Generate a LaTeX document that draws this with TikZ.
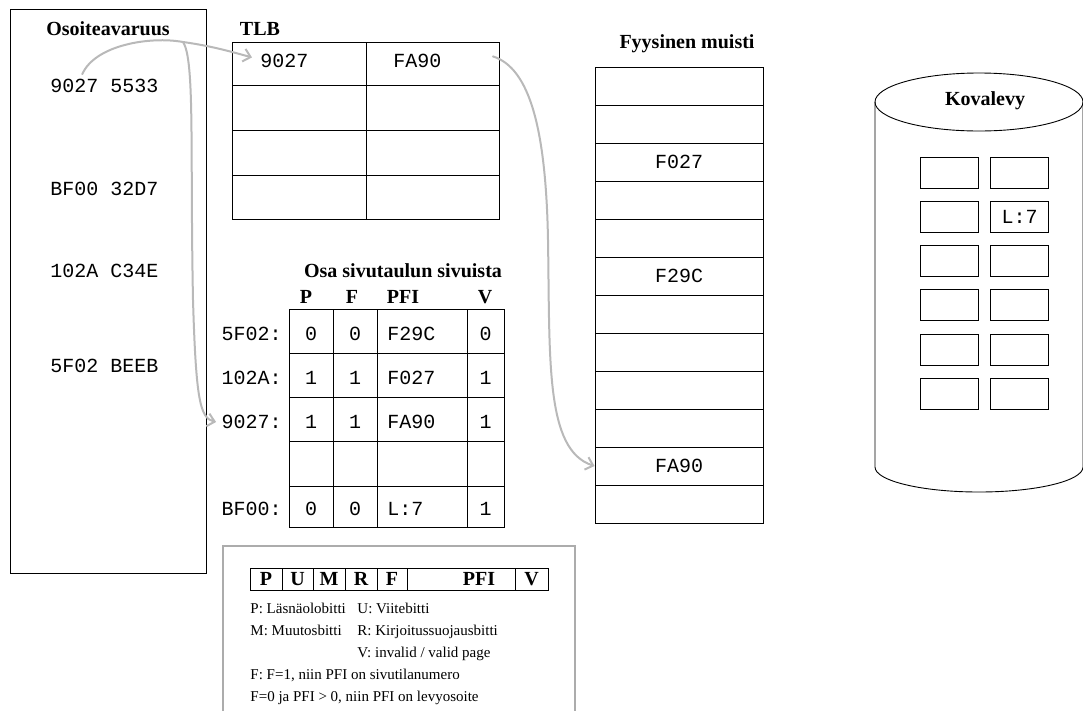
\documentclass[tikz,border=0pt]{standalone}
\usepackage{fontspec}
\setmainfont{Liberation Serif}
\setmonofont{Liberation Mono}
\usetikzlibrary{arrows.meta,calc,positioning}

\begin{document}
\begin{tikzpicture}[x=1pt,y=-1pt,line width=0.9pt,
  title/.style={font=\fontsize{20}{24}\selectfont\bfseries,inner sep=1pt},
  mono/.style={font=\fontsize{20}{24}\selectfont\ttfamily,inner sep=1pt},
  leg/.style={font=\fontsize{15}{18}\selectfont,anchor=base west,inner sep=0pt},
  memrow/.style={draw,mono,minimum width=168pt,minimum height=38pt,inner sep=0pt},
  blk/.style={draw,minimum width=58pt,minimum height=31pt,inner sep=0pt},
  hand/.style={draw=gray!55,line width=2pt,line cap=round,-{Straight Barb[length=7pt,width=13pt]}}]
  \useasboundingbox (0,0) rectangle (1083,710);

  \draw (10,9) rectangle (206,573);
  \node[title,anchor=base] (astitle) at (108,35) {Osoiteavaruus};
  \node[mono,anchor=base west] (addr1) at (49,92) {9027 5533};
  \node[mono,anchor=base west] (addr2) at (49,195) {BF00 32D7};
  \node[mono,anchor=base west] (addr3) at (49,277) {102A C34E};
  \node[mono,anchor=base west] (addr4) at (49,372) {5F02 BEEB};

  \node[title,anchor=base] (tlbtitle) at (260,35) {TLB};
  \draw (232,42) rectangle (499,219);
  \draw (366,42) -- (366,219);
  \foreach \y in {85,130,175} \draw (232,\y) -- (499,\y);
  \node[mono,anchor=base west] (tlbkey) at (259,67) {9027};
  \node[mono,anchor=base west] (tlbval) at (392,67) {FA90};

  \node[title,anchor=base] (pttitle) at (403,277) {Osa sivutaulun sivuista};
  \foreach \x/\t in {306/P,352/F,403/PFI,485/V}
    \node[title,anchor=base] (hd\t) at (\x,303) {\t};
  \draw (289,309) rectangle (504,527);
  \foreach \x in {333,377,467} \draw (\x,309) -- (\x,527);
  \foreach \y in {353,397,441,486} \draw (289,\y) -- (504,\y);
  \foreach \y/\k/\p/\f/\n/\v in {334/5F02/0/0/F29C/0,378/102A/1/1/F027/1,422/9027/1/1/FA90/1,509/BF00/0/0/L:7/1} {
    \node[mono,anchor=east] (pt\k) at (283,\y) {\k:};
    \node[mono] (p\k) at (311,\y) {\p};
    \node[mono] (f\k) at (355,\y) {\f};
    \node[mono,anchor=west] (pfi\k) at (386,\y) {\n};
    \node[mono] (v\k) at (485.5,\y) {\v};
  }

  \node[title,anchor=base] (memtitle) at (687,48) {Fyysinen muisti};
  \foreach \i/\t in {1/,2/,3/F027,4/,5/,6/F29C,7/,8/,9/,10/,11/FA90,12/}
    \node[memrow] (mem\i) at (679,{48+38*\i}) {\t};

  \draw (979,102) ellipse[x radius=104,y radius=29];
  \draw (875,102) -- (875,467) arc[start angle=180,end angle=0,x radius=104,y radius=25] -- (1083,102);
  \node[title,anchor=base] (disktitle) at (985,105) {Kovalevy};
  \foreach \r in {0,...,5}
    \foreach \c in {0,1}
      \node[blk] (blk\r\c) at ({949+70.5*\c},{172.5+44.3*\r}) {};
  \node[mono] (diskl7) at (blk11) {L:7};

  \draw[gray!65,line width=1.5pt] (223,712) -- (223,546) -- (575,546) -- (575,712);
  \draw (250,568) rectangle (548,590);
  \foreach \x in {282,313,345,377,407,515} \draw (\x,568) -- (\x,590);
  \foreach \x/\t in {266/P,297.5/U,329/M,361/R,392/F,479/PFI,531.5/V}
    \node[title] (bit\t) at (\x,579) {\t};
  \node[leg] (lgP) at (250,613) {P: Läsnäolobitti};
  \node[leg] (lgU) at (357,613) {U: Viitebitti};
  \node[leg] (lgM) at (250,635) {M: Muutosbitti};
  \node[leg] (lgR) at (357,635) {R: Kirjoitussuojausbitti};
  \node[leg] (lgV) at (357,657) {V: invalid / valid page};
  \node[leg] (lgF1) at (250,679) {F: F=1, niin PFI on sivutilanumero};
  \node[leg] (lgF0) at (250,701) {F=0 ja PFI > 0, niin PFI on levyosoite};

  \coordinate (fork) at (183,42);
  \coordinate (tlbout) at ($(tlbval.east)+(50,-4)$);
  \draw[hand] ($(addr1.north west)!0.3!(addr1.north east)+(0,-3)$) .. controls (95,45) and (150,36) .. (fork)
    .. controls (212,46) and (232,52) .. ($(tlbkey.west)+(-7,-3)$);
  \draw[hand] (fork) .. controls (195,60) and (190,150) .. (193,300)
    .. controls (196,400) and (200,418) .. ($(pt9027.west)+(-4,0)$);
  \draw[hand] (tlbout) .. controls (530,68) and (546,130) .. (548,240)
    .. controls (550,360) and (545,450) .. (mem11.west);
\end{tikzpicture}
\end{document}
